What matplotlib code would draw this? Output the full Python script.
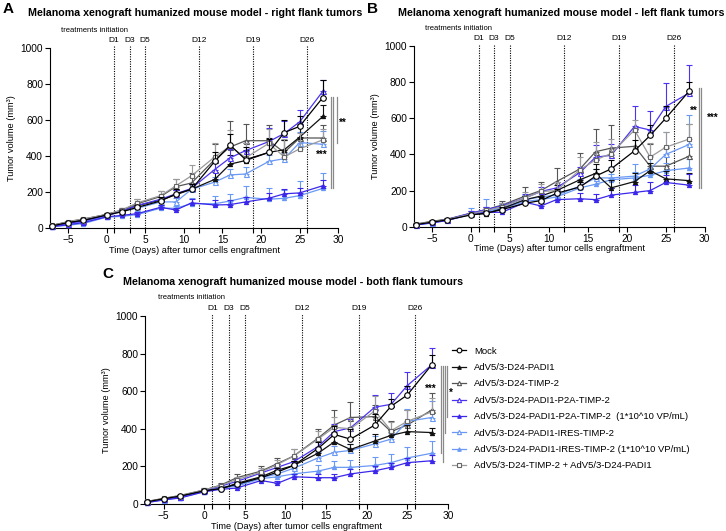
import matplotlib
matplotlib.use("Agg")
import matplotlib.pyplot as plt
from matplotlib.lines import Line2D
import numpy as np

plt.rcParams['font.family'] = ['Liberation Sans', 'DejaVu Sans']

# ---------------- data ----------------
days = [-7, -5, -3, 0, 2, 4, 7, 9, 11, 14, 16, 18, 21, 23, 25, 28]

series_names = [
    "Mock",
    "AdV5/3-D24-PADI1",
    "AdV5/3-D24-TIMP-2",
    "AdV5/3-D24-PADI1-P2A-TIMP-2",
    "AdV5/3-D24-PADI1-P2A-TIMP-2  (1*10^10 VP/mL)",
    "AdV5/3-D24-PADI1-IRES-TIMP-2",
    "AdV5/3-D24-PADI1-IRES-TIMP-2 (1*10^10 VP/mL)",
    "AdV5/3-D24-TIMP-2 + AdV5/3-D24-PADI1",
]

# Panel A - right flank (mean, upper SEM)
right_mock = [12, 30, 42, 72, 90, 115, 150, 190, 215, 370, 460, 380, 420, 530, 565, 725]
right_mock_err = [3, 5, 6, 8, 10, 15, 20, 25, 30, 55, 60, 70, 75, 70, 55, 95]
right_padi1 = [15, 32, 45, 75, 95, 125, 155, 185, 215, 270, 355, 375, 420, 435, 505, 620]
right_padi1_err = [3, 5, 6, 8, 10, 15, 20, 25, 30, 40, 50, 60, 80, 55, 70, 65]
right_timp2 = [15, 35, 50, 75, 100, 135, 175, 230, 250, 380, 450, 485, 485, 420, 500, 500]
right_timp2_err = [3, 5, 6, 8, 12, 25, 30, 40, 55, 85, 145, 95, 90, 70, 80, 70]
right_p2a = [10, 25, 40, 70, 95, 125, 160, 190, 220, 325, 390, 430, 480, 525, 590, 760]
right_p2a_err = [3, 4, 5, 8, 10, 14, 18, 20, 25, 40, 50, 45, 75, 70, 65, 60]
right_p2a_low = [8, 18, 30, 62, 70, 80, 115, 100, 140, 128, 130, 145, 165, 190, 195, 235]
right_p2a_low_err = [2, 3, 4, 6, 8, 10, 15, 12, 20, 25, 25, 30, 30, 25, 30, 30]
right_ires = [10, 20, 35, 65, 95, 110, 145, 145, 215, 255, 295, 300, 370, 385, 475, 465]
right_ires_err = [2, 3, 4, 6, 8, 10, 15, 20, 25, 30, 35, 40, 35, 30, 60, 75]
right_ires_low = [8, 15, 25, 60, 65, 75, 110, 110, 135, 135, 150, 170, 160, 165, 180, 220]
right_ires_low_err = [2, 3, 4, 6, 8, 10, 15, 15, 30, 45, 40, 65, 60, 45, 80, 85]
right_combo = [15, 35, 50, 75, 100, 140, 180, 235, 290, 395, 455, 390, 470, 395, 440, 490]
right_combo_err = [3, 5, 6, 8, 10, 20, 25, 35, 60, 80, 90, 80, 80, 100, 90, 60]

# Panel B - left flank
left_mock = [12, 25, 38, 65, 75, 95, 130, 145, 185, 220, 280, 320, 420, 505, 600, 750]
left_mock_err = [3, 4, 5, 8, 10, 12, 15, 20, 25, 30, 40, 50, 60, 60, 70, 50]
left_padi1 = [12, 28, 40, 70, 72, 100, 150, 170, 200, 260, 295, 215, 250, 310, 265, 255]
left_padi1_err = [3, 4, 5, 8, 10, 14, 20, 25, 30, 40, 50, 45, 45, 40, 45, 40]
left_timp2 = [15, 30, 42, 75, 95, 120, 170, 200, 250, 320, 415, 435, 445, 335, 335, 390]
left_timp2_err = [3, 5, 6, 10, 12, 25, 50, 50, 75, 90, 125, 130, 80, 120, 100, 180]
left_p2a = [12, 25, 40, 75, 95, 115, 160, 195, 215, 300, 385, 395, 555, 535, 665, 740]
left_p2a_err = [3, 4, 5, 10, 12, 15, 20, 25, 30, 30, 65, 60, 115, 105, 130, 155]
left_p2a_low = [10, 22, 35, 70, 80, 80, 135, 115, 150, 155, 150, 175, 190, 200, 245, 230]
left_p2a_low_err = [2, 3, 4, 6, 8, 10, 15, 15, 30, 30, 30, 40, 40, 50, 40, 60]
left_ires = [12, 22, 38, 72, 85, 105, 150, 165, 175, 225, 270, 270, 280, 320, 400, 455]
left_ires_err = [3, 4, 5, 30, 70, 20, 25, 30, 25, 40, 50, 60, 65, 70, 125, 165]
left_ires_low = [10, 20, 35, 68, 80, 100, 140, 150, 165, 215, 235, 260, 270, 285, 310, 325]
left_ires_low_err = [2, 3, 4, 6, 8, 10, 15, 20, 20, 30, 30, 30, 35, 40, 45, 50]
left_combo = [15, 28, 40, 70, 90, 110, 160, 195, 200, 315, 370, 405, 535, 385, 440, 485]
left_combo_err = [3, 5, 6, 8, 12, 20, 30, 40, 50, 70, 100, 80, 55, 80, 85, 85]

# Panel C - both flanks
both_mock = [12, 28, 42, 70, 82, 105, 140, 170, 205, 295, 370, 345, 420, 520, 580, 740]
both_mock_err = [3, 4, 5, 6, 8, 12, 15, 20, 25, 35, 45, 55, 60, 40, 50, 50]
both_padi1 = [12, 28, 42, 72, 80, 110, 145, 180, 205, 270, 330, 290, 335, 365, 385, 380]
both_padi1_err = [3, 4, 5, 6, 8, 12, 15, 20, 25, 30, 35, 30, 35, 30, 35, 25]
both_timp2 = [14, 30, 45, 75, 100, 140, 175, 215, 255, 350, 420, 460, 465, 385, 420, 500]
both_timp2_err = [3, 4, 5, 8, 12, 20, 25, 30, 40, 50, 80, 80, 60, 55, 80, 90]
both_p2a = [10, 25, 40, 72, 95, 120, 165, 195, 225, 305, 385, 405, 515, 530, 630, 740]
both_p2a_err = [3, 4, 5, 8, 10, 12, 15, 20, 25, 30, 40, 45, 65, 60, 70, 90]
both_p2a_low = [8, 22, 32, 65, 78, 85, 125, 110, 145, 140, 140, 160, 177, 195, 220, 230]
both_p2a_low_err = [2, 3, 4, 6, 8, 10, 12, 12, 15, 20, 20, 25, 25, 25, 25, 30]
both_ires = [10, 24, 36, 68, 90, 100, 140, 160, 190, 245, 275, 285, 320, 345, 440, 460]
both_ires_err = [2, 3, 4, 6, 8, 10, 15, 20, 25, 30, 35, 35, 40, 35, 65, 90]
both_ires_low = [9, 22, 34, 66, 85, 95, 135, 145, 160, 175, 195, 195, 205, 220, 245, 270]
both_ires_low_err = [2, 3, 4, 6, 8, 10, 15, 15, 25, 35, 35, 40, 45, 45, 60, 65]
both_combo = [14, 30, 45, 75, 98, 130, 170, 210, 255, 345, 408, 400, 495, 390, 440, 490]
both_combo_err = [3, 4, 5, 8, 10, 15, 20, 25, 35, 45, 55, 60, 80, 45, 60, 75]

panel_titles = [
    "Melanoma xenograft humanized mouse model - right flank tumors",
    "Melanoma xenograft humanized mouse model - left flank tumors",
    "Melanoma xenograft humanized mouse model - both flank tumours",
]
panel_letters = ["A", "B", "C"]
event_days = [1, 3, 5, 12, 19, 26]
event_labels = ["D1", "D3", "D5", "D12", "D19", "D26"]
x_ticks = [-5, 0, 5, 10, 15, 20, 25, 30]
y_ticks = [0, 200, 400, 600, 800, 1000]

panels = [
    ([right_mock, right_padi1, right_timp2, right_p2a, right_p2a_low, right_ires, right_ires_low, right_combo],
     [right_mock_err, right_padi1_err, right_timp2_err, right_p2a_err, right_p2a_low_err, right_ires_err, right_ires_low_err, right_combo_err]),
    ([left_mock, left_padi1, left_timp2, left_p2a, left_p2a_low, left_ires, left_ires_low, left_combo],
     [left_mock_err, left_padi1_err, left_timp2_err, left_p2a_err, left_p2a_low_err, left_ires_err, left_ires_low_err, left_combo_err]),
    ([both_mock, both_padi1, both_timp2, both_p2a, both_p2a_low, both_ires, both_ires_low, both_combo],
     [both_mock_err, both_padi1_err, both_timp2_err, both_p2a_err, both_p2a_low_err, both_ires_err, both_ires_low_err, both_combo_err]),
]

# significance brackets: (x, y_top, y_bottom) and star texts (x, y, text)
sig_lines = [
    [(29.0, 730, 225), (29.28, 730, 225), (29.84, 730, 475)],
    [(29.25, 765, 215), (29.5, 765, 215)],
    [(29.1, 735, 270), (29.35, 735, 225), (29.65, 735, 375), (29.9, 735, 462)],
]
sig_texts = [
    [(30.6, 585, "**"), (27.9, 405, "***")],
    [(28.6, 640, "**"), (31.0, 600, "***")],
    [(27.9, 612, "***"), (30.35, 592, "*")],
]

# ---------------- styles ----------------
P2A = '#4a34f2'
P2A_D = '#3b27ea'
IRES = '#6a98f5'
styles = [
    dict(color='black', marker='o', mfc='white', mec='black', ms=4.0, z=10),
    dict(color='#111111', marker='^', mfc='#111111', mec='#111111', ms=3.0, z=6),
    dict(color='#555555', marker='^', mfc='white', mec='#555555', ms=3.6, z=5),
    dict(color=P2A, marker='^', mfc='white', mec=P2A, ms=3.6, z=7),
    dict(color=P2A_D, marker='^', mfc=P2A_D, mec=P2A_D, ms=3.0, z=6),
    dict(color=IRES, marker='^', mfc='white', mec=IRES, ms=3.6, z=5),
    dict(color=IRES, marker='^', mfc=IRES, mec=IRES, ms=3.0, z=5),
    dict(color='#9a9a9a', marker='s', mfc='white', mec='#666666', ms=3.4, z=8),
]

fig = plt.figure(figsize=(7.26, 5.31), dpi=100)
positions = [
    [0.069, 0.5706, 0.397, 0.339],
    [0.570, 0.573, 0.4007, 0.3404],
    [0.1997, 0.0508, 0.4173, 0.3542],
]

axes = []
for p, pos in enumerate(positions):
    ax = fig.add_axes(pos)
    axes.append(ax)
    means, errs = panels[p]
    for s, st in enumerate(styles):
        y = np.array(means[s], dtype=float)
        e = np.array(errs[s], dtype=float)
        ax.errorbar(days, y, yerr=[np.zeros_like(e), e], color=st['color'],
                    marker=st['marker'], mfc=st['mfc'], mec=st['mec'], ms=st['ms'],
                    mew=0.8, lw=0.9, elinewidth=0.8, capsize=2.2, capthick=0.8,
                    zorder=st['z'], clip_on=False)
    ax.set_xlim(-7.3, 30)
    ax.set_ylim(0, 1000)
    ax.set_xticks(x_ticks)
    ax.set_xticks([1, 3, 12, 19, 26], minor=True)
    ax.set_yticks(y_ticks)
    ax.spines['top'].set_visible(False)
    ax.spines['right'].set_visible(False)
    for sp in ['left', 'bottom']:
        ax.spines[sp].set_linewidth(0.8)
    ax.tick_params(axis='both', which='both', direction='out', length=3.5, width=0.8,
                   labelsize=7.3, pad=1.5)
    ax.set_xlabel("Time (Days) after tumor cells engraftment", fontsize=6.7, labelpad=0.5)
    ax.set_ylabel("Tumor volume (mm³)", fontsize=6.7, labelpad=3)
    for d, lab in zip(event_days, event_labels):
        ax.plot([d, d], [0, 1012], color='black', lw=0.8, ls=(0, (1, 1.2)),
                clip_on=False, zorder=1)
        ax.text(d, 1022, lab, fontsize=6, ha='center', va='bottom')
    ax.text(-1.6, 1080, "treatments initiation", fontsize=5.5, ha='center', va='bottom')
    for (xx, y0, y1) in sig_lines[p]:
        ax.plot([xx, xx], [y1, y0], color='#8a8a8a', lw=0.9, clip_on=False, zorder=2)
    for (xx, yy, t) in sig_texts[p]:
        ax.text(xx, yy, t, fontsize=7, ha='center', va='center', fontweight='bold')

# titles & letters
fig.text(0.0386, 0.9755, panel_titles[0], fontsize=7.7, fontweight='bold', va='center', ha='left')
fig.text(0.548, 0.9755, panel_titles[1], fontsize=7.7, fontweight='bold', va='center', ha='left')
fig.text(0.169, 0.4695, panel_titles[2], fontsize=7.7, fontweight='bold', va='center', ha='left')
fig.text(0.004, 0.983, panel_letters[0], fontsize=11, fontweight='bold', va='center', ha='left')
fig.text(0.505, 0.983, panel_letters[1], fontsize=11, fontweight='bold', va='center', ha='left')
fig.text(0.141, 0.484, panel_letters[2], fontsize=11, fontweight='bold', va='center', ha='left')

# legend
handles = []
for st in styles:
    handles.append(Line2D([0], [0], color=st['color'], marker=st['marker'], mfc=st['mfc'],
                          mec=st['mec'], ms=st['ms'] * 0.85, mew=0.8, lw=0.9))
axes[2].legend(handles, series_names, loc='upper left', bbox_to_anchor=(0.622, 0.347),
               bbox_transform=fig.transFigure, frameon=False, fontsize=6.8,
               handlelength=1.5, handletextpad=0.9, labelspacing=0.78, borderpad=0,
               borderaxespad=0)

fig.savefig("out.png", dpi=100)
